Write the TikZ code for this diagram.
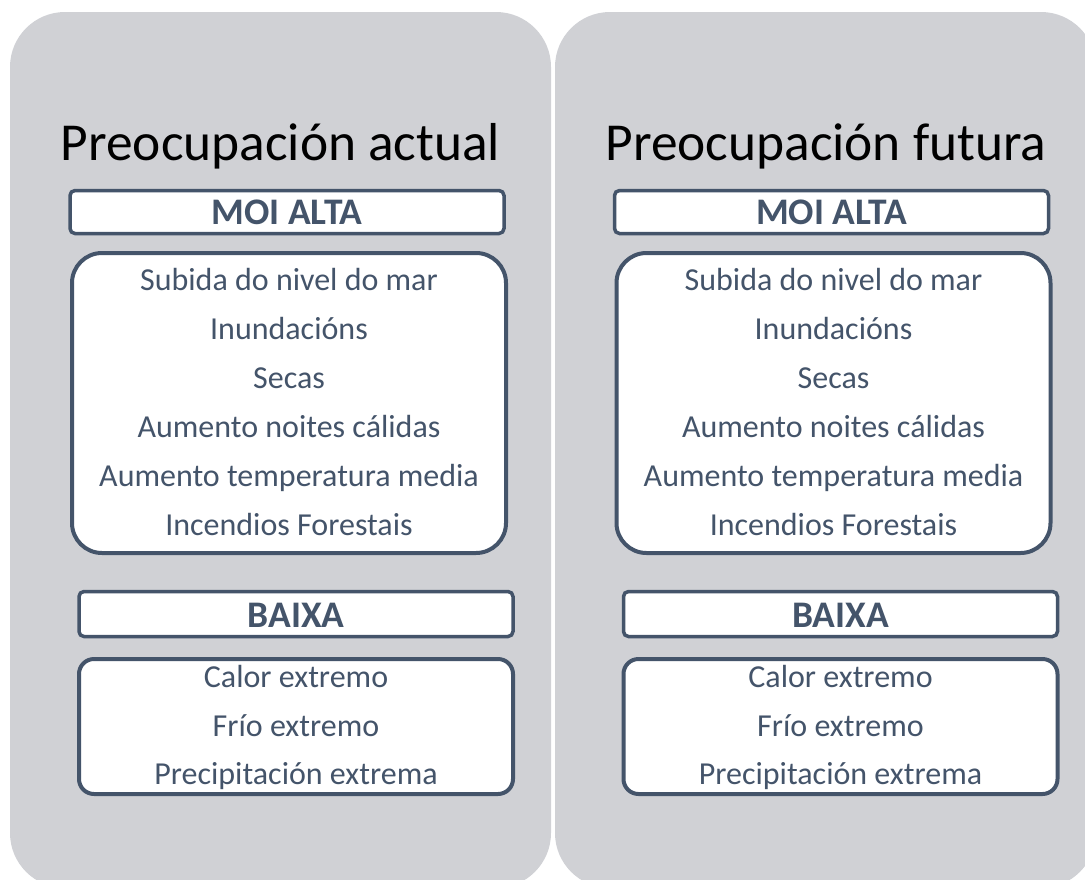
\documentclass[tikz,border=0pt]{standalone}
\usepackage{fontspec}
\setmainfont{Carlito}
\definecolor{panelgray}{RGB}{208,209,213}
\definecolor{slate}{RGB}{68,84,106}
\begin{document}
\begin{tikzpicture}[x=1pt,y=-1pt,
  panel/.style={fill=panelgray,draw=none,rounded corners=55pt},
  hdrbox/.style={draw=slate,fill=white,line width=3.5pt,rounded corners=5pt,minimum width=434pt,minimum height=43pt,inner sep=0pt},
  listbox/.style={draw=slate,fill=white,line width=4pt,minimum width=434pt,inner sep=0pt},
  hdrtext/.style={anchor=base,text=slate,font=\fontsize{37.5}{42}\selectfont\bfseries,inner sep=0pt},
  itemtext/.style={anchor=base,text=slate,font=\fontsize{32}{36}\selectfont,inner sep=0pt},
  titletext/.style={anchor=base,text=black,font=\fontsize{53.4}{60}\selectfont,inner sep=0pt}]
\useasboundingbox (0,0) rectangle (1085,879);
\begin{scope}
\clip (0,0) rectangle (1085,879);
\fill[panel] (10,12) rectangle (551,888);
\fill[panel] (555,12) rectangle (1096,888);
\end{scope}
\foreach \side/\dx/\title in {L/0/Preocupación actual, R/544.5/Preocupación futura}{
  \begin{scope}[xshift=\dx]
  \node[titletext] (title\side) at ({280.5+(\dx==0?0:1)},160) {\title};
  \node[hdrbox] (hi\side) at (287,212) {};
  \node[hdrtext] (hit\side) at (287,224) {MOI ALTA};
  \node[listbox,rounded corners=30pt,minimum height=300pt] (hl\side) at (289,403) {};
  \node[itemtext] (h1\side) at (289,290) {Subida do nivel do mar};
  \node[itemtext] (h2\side) at (289,339) {Inundacións};
  \node[itemtext] (h3\side) at (289,388) {Secas};
  \node[itemtext] (h4\side) at (289,437) {Aumento noites cálidas};
  \node[itemtext] (h5\side) at (289,486) {Aumento temperatura media};
  \node[itemtext] (h6\side) at (289,535) {Incendios Forestais};
  \node[hdrbox,minimum height=45pt] (lo\side) at (296,614) {};
  \node[hdrtext] (lot\side) at (296,627) {BAIXA};
  \node[listbox,rounded corners=15pt,minimum height=135pt] (ll\side) at (296,726.5) {};
  \node[itemtext] (l1\side) at (296,687) {Calor extremo};
  \node[itemtext] (l2\side) at (296,736) {Frío extremo};
  \node[itemtext] (l3\side) at (296,784) {Precipitación extrema};
  \end{scope}
}
\end{tikzpicture}
\end{document}
